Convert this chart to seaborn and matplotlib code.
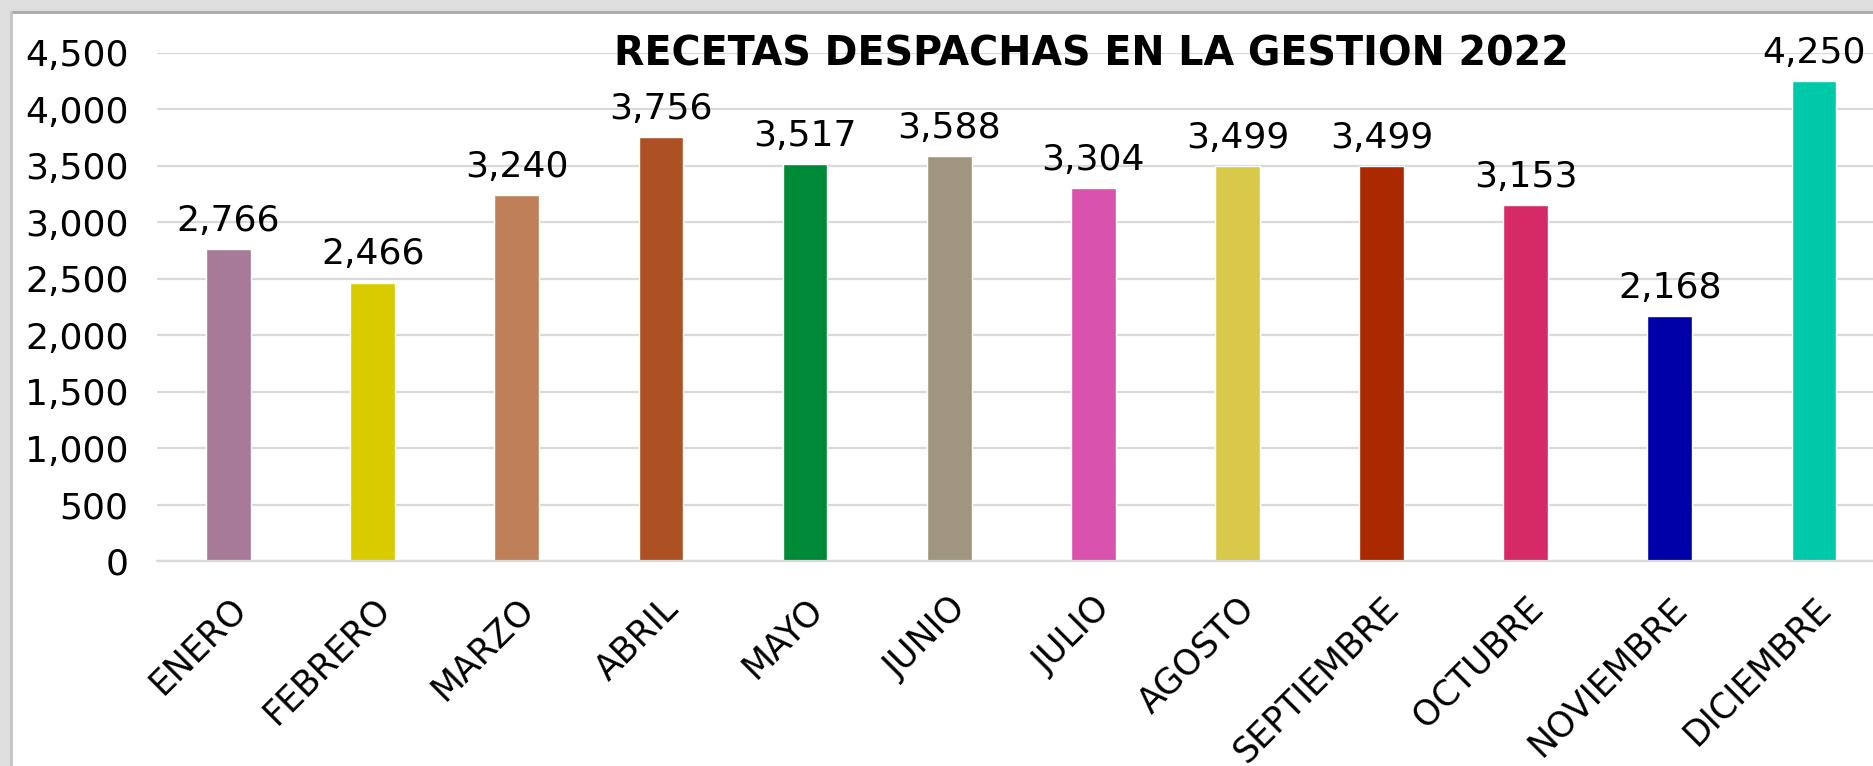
import numpy as np
import pandas as pd
import matplotlib
matplotlib.use("Agg")
import matplotlib.pyplot as plt
import matplotlib.transforms as mtransforms
from matplotlib.patches import Rectangle
import seaborn as sns

months = ["ENERO", "FEBRERO", "MARZO", "ABRIL", "MAYO", "JUNIO", "JULIO",
          "AGOSTO", "SEPTIEMBRE", "OCTUBRE", "NOVIEMBRE", "DICIEMBRE"]
recetas = [2766, 2466, 3240, 3756, 3517, 3588, 3304, 3499, 3499, 3153, 2168, 4250]
colors = ["#A77B97", "#D8CC00", "#BF7F58", "#AD5125", "#008A38", "#A0957E",
          "#D852AE", "#D8C94A", "#AA2901", "#D62A66", "#0000A8", "#00C9A9"]
yticks = [0, 500, 1000, 1500, 2000, 2500, 3000, 3500, 4000, 4500]
title = "RECETAS DESPACHAS EN LA GESTION 2022"

sns.set_style("white")
plt.rcParams['font.family'] = ['DejaVu Sans']
plt.rcParams['text.color'] = 'black'
plt.rcParams['xtick.color'] = 'black'
plt.rcParams['ytick.color'] = 'black'

df = pd.DataFrame({"mes": months, "recetas": recetas})

W, H = 1873, 766
fig = plt.figure(figsize=(W / 100, H / 100), dpi=100)
ax = fig.add_axes([156.5 / W, 1 - 561.4 / H, (1886 - 156.5) / W, (561.4 - 52.6) / H])

sns.barplot(data=df, x="mes", y="recetas", hue="mes", palette=colors,
            legend=False, width=0.31, saturation=1, ax=ax)

ax.set_ylim(0, 4500)
ax.set_xlim(-0.5, len(months) - 0.5)
ax.set_yticks(yticks)
ax.set_yticklabels([f"{v:,}" for v in yticks])
ax.yaxis.grid(True, color="#d9d9d9", linewidth=1.6)
ax.set_axisbelow(True)
for s in ["top", "right", "left"]:
    ax.spines[s].set_visible(False)
ax.spines["bottom"].set_color("#d9d9d9")
ax.spines["bottom"].set_linewidth(1.6)
ax.set_xlabel("")
ax.set_ylabel("")
ax.tick_params(axis="y", length=0, pad=20, labelsize=26, labelcolor="black")

# category boundary ticks below the axis
ax.set_xticks(np.arange(-0.5, len(months), 1), minor=True)
ax.tick_params(axis="x", which="minor", length=7, width=1.5, color="#d9d9d9")
ax.tick_params(axis="x", which="major", length=0, pad=30, labelsize=25, labelcolor="black")
ax.set_xticks(range(len(months)))
ax.set_xticklabels(months, rotation=45, ha="right", va="center", rotation_mode="anchor")
offset = mtransforms.ScaledTranslation(12 / 100, 0, fig.dpi_scale_trans)
for lab in ax.get_xticklabels():
    lab.set_transform(lab.get_transform() + offset)

for i, v in enumerate(recetas):
    ax.annotate(f"{v:,}", (i, v), xytext=(0, 8), textcoords="offset points",
                ha="center", va="bottom", fontsize=26, color="black", clip_on=False)

fig.text(1091 / W, 1 - 55 / H, title, ha="center", va="center",
         fontsize=28.5, fontweight="bold", color="black")

# chart frame shadow along top and left edges
fig.patches.append(Rectangle((0, 1 - 13 / H), 1, 13 / H, transform=fig.transFigure,
                             facecolor="#dedede", edgecolor="none", zorder=0))
fig.patches.append(Rectangle((0, 0), 12 / W, 1, transform=fig.transFigure,
                             facecolor="#dedede", edgecolor="none", zorder=0))
fig.add_artist(plt.Line2D([12 / W, 1], [1 - 12 / H, 1 - 12 / H], transform=fig.transFigure,
                          color="#a8a8a8", linewidth=2))
fig.add_artist(plt.Line2D([11 / W, 11 / W], [0, 1 - 12 / H], transform=fig.transFigure,
                          color="#c4c4c4", linewidth=2))

fig.savefig("out.png", dpi=100)
